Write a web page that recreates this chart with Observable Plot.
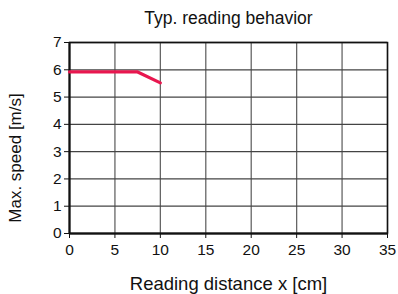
<!DOCTYPE html>
<html>
<head>
<meta charset="utf-8">
<script src="https://cdn.jsdelivr.net/npm/d3@7"></script>
<script src="https://cdn.jsdelivr.net/npm/@observablehq/plot@0.6"></script>
<style>
  html, body { margin: 0; padding: 0; background: #fff; }
  svg { font-family: "Liberation Sans", Arial, sans-serif; }
</style>
</head>
<body>
<div id="chart"></div>
<script>
const title = "Typ. reading behavior";
const xLabel = "Reading distance x [cm]";
const yLabel = "Max. speed [m/s]";
const distance = [0, 7.5, 10];
const speed = [5.92, 5.92, 5.52];
const xTicks = [0, 5, 10, 15, 20, 25, 30, 35];
const yTicks = [0, 1, 2, 3, 4, 5, 6, 7];

const data = distance.map((d, i) => ({x: d, y: speed[i]}));

const chart = Plot.plot({
  width: 398,
  height: 294,
  marginLeft: 69,
  marginRight: 11,
  marginTop: 42,
  marginBottom: 61,
  style: {fontFamily: '"Liberation Sans", Arial, sans-serif', color: "#111", background: "#fff"},
  x: {domain: [0, 35]},
  y: {domain: [0, 7]},
  marks: [
    Plot.gridX(xTicks, {stroke: "#666", strokeOpacity: 1, strokeWidth: 1.3}),
    Plot.gridY(yTicks, {stroke: "#444", strokeOpacity: 1, strokeWidth: 1.3}),
    Plot.frame({stroke: "#111", strokeWidth: 1.5}),
    Plot.ruleX([0], {stroke: "#111", strokeWidth: 2}),
    Plot.ruleY([0], {stroke: "#111", strokeWidth: 2}),
    Plot.axisX(xTicks, {tickSize: 5, tickPadding: 5, fontSize: 15.5, label: null, tickFormat: "d", stroke: "#111"}),
    Plot.axisY(yTicks, {tickSize: 5, tickPadding: 3, fontSize: 15.5, label: null, tickFormat: "d", stroke: "#111"}),
    Plot.line(data, {x: "x", y: "y", stroke: "#e8174f", strokeWidth: 3.2}),
    Plot.text([title], {frameAnchor: "top", dy: -19, fontSize: 17.5, fill: "#111", lineAnchor: "bottom"}),
    Plot.text([xLabel], {frameAnchor: "bottom", dy: 56, fontSize: 18.5, fill: "#111", lineAnchor: "bottom"}),
    Plot.text([yLabel], {frameAnchor: "left", textAnchor: "middle", dx: -54, dy: 20, rotate: -90, fontSize: 17, fill: "#111"})
  ]
});
document.getElementById("chart").appendChild(chart);
</script>
</body>
</html>
